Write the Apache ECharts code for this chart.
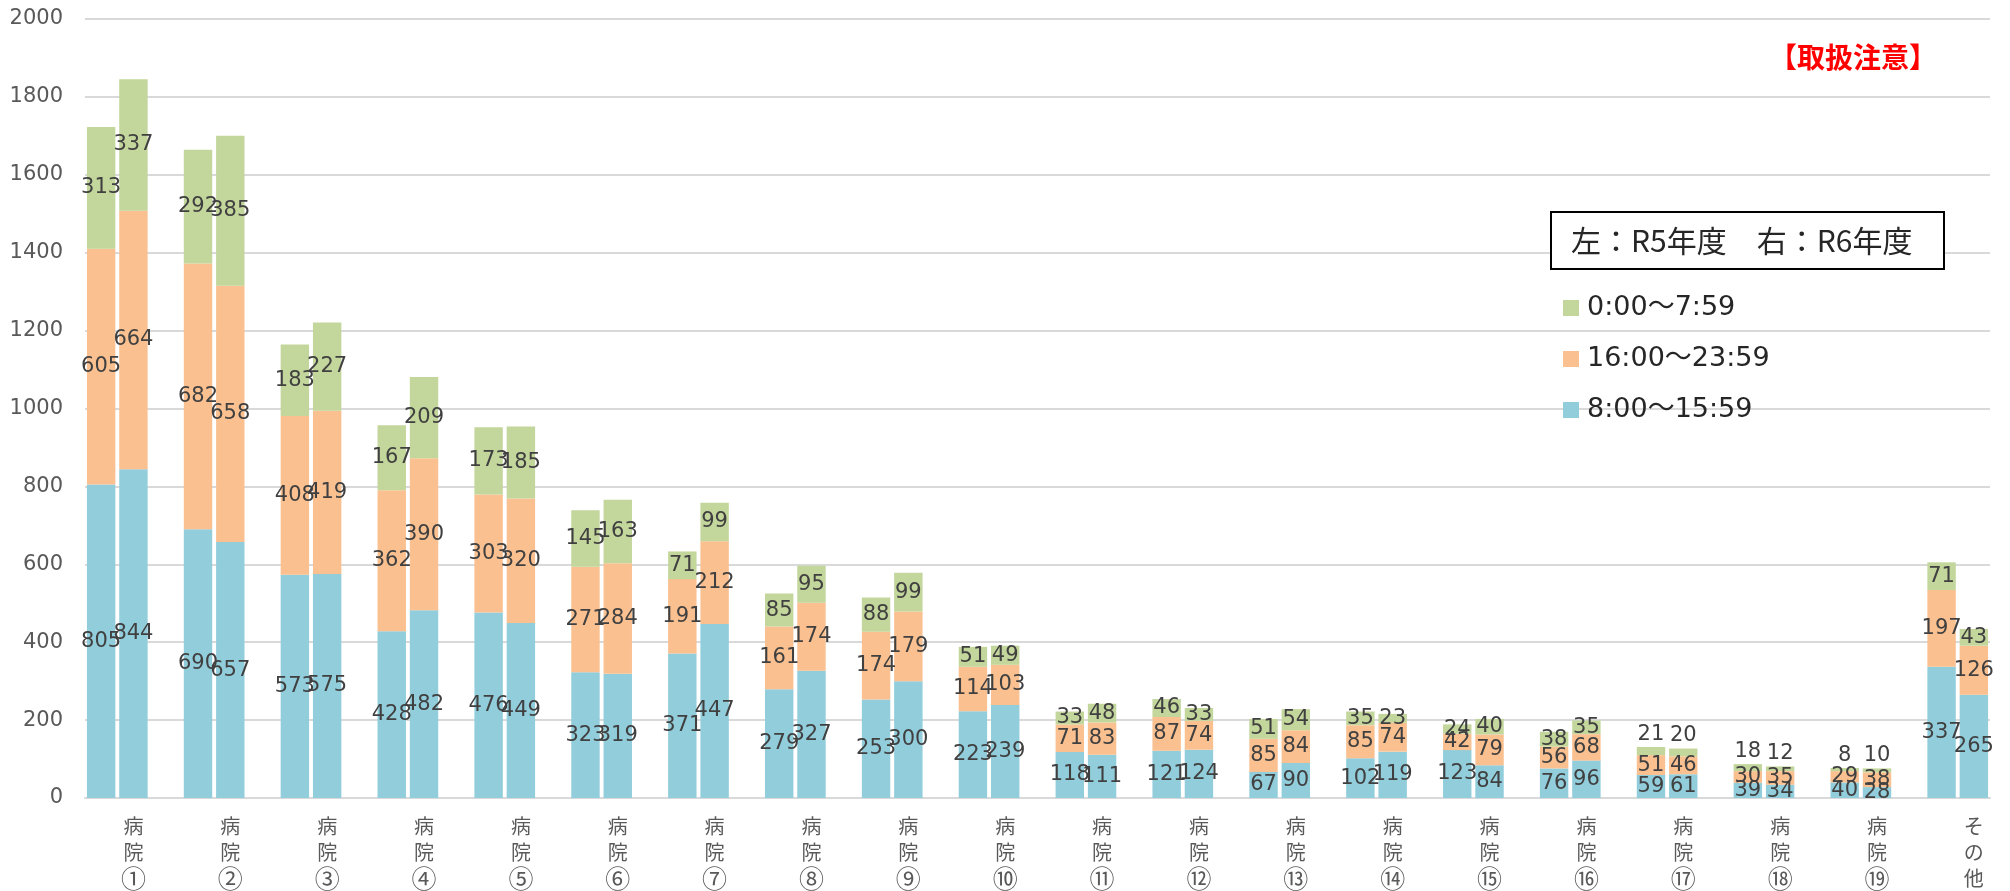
<!DOCTYPE html>
<html>
<head>
<meta charset="utf-8">
<script src="https://cdn.jsdelivr.net/npm/echarts@6/dist/echarts.min.js"></script>
<style>
html,body{margin:0;padding:0;background:#fff;}
#chart{width:2010px;height:891px;}
</style>
</head>
<body>
<div id="chart"></div>
<script>
// ---- data ----
const categories = ['病院①','病院②','病院③','病院④','病院⑤','病院⑥','病院⑦','病院⑧','病院⑨','病院⑩',
  '病院⑪','病院⑫','病院⑬','病院⑭','病院⑮','病院⑯','病院⑰','病院⑱','病院⑲','その他'];
const seriesNames = ['8:00～15:59', '16:00～23:59', '0:00～7:59'];
// R5 (left bar)
const r5Day     = [805,690,573,428,476,323,371,279,253,223,118,121,67,102,123,76,59,39,40,337];
const r5Evening = [605,682,408,362,303,271,191,161,174,114,71,87,85,85,42,56,51,30,29,197];
const r5Night   = [313,292,183,167,173,145,71,85,88,51,33,46,51,35,24,38,21,18,8,71];
// R6 (right bar)
const r6Day     = [844,657,575,482,449,319,447,327,300,239,111,124,90,119,84,96,61,34,28,265];
const r6Evening = [664,658,419,390,320,284,212,174,179,103,83,74,84,74,79,68,46,35,38,126];
const r6Night   = [337,385,227,209,185,163,99,95,99,49,48,33,54,23,40,35,20,12,10,43];
const yTicks = { min: 0, max: 2000, interval: 200 };

// ---- build slot layout: [R5, R6, gap] per category, no trailing gap ----
const slots = [];
function buildSlots(r5, r6) {
  const out = [];
  categories.forEach((c, i) => {
    out.push(r5[i]);
    out.push(r6[i]);
    if (i < categories.length - 1) out.push('-');
  });
  return out;
}
categories.forEach((c, i) => {
  slots.push(c + '|R5');
  slots.push(c);
  if (i < categories.length - 1) slots.push(c + '|gap');
});

const colors = ['#92CDDC', '#FAC090', '#C3D69B'];
const numFont = "'DejaVu Sans', 'Noto Sans CJK JP', sans-serif";
const cjkFont = "'Noto Sans CJK JP', 'DejaVu Sans', sans-serif";

const dataSets = [buildSlots(r5Day, r6Day), buildSlots(r5Evening, r6Evening), buildSlots(r5Night, r6Night)];

const series = dataSets.map((d, si) => ({
  name: seriesNames[si],
  type: 'bar',
  stack: 'total',
  barCategoryGap: '12%',
  itemStyle: { color: colors[si] },
  data: d.map(v => {
    if (v === '-') return '-';
    const small = si === 2 && v <= 21;
    return {
      value: v,
      label: { position: small ? 'top' : 'inside', distance: 2 }
    };
  }),
  label: {
    show: true,
    color: '#404040',
    fontSize: 21,
    fontFamily: numFont,
    formatter: p => p.value
  }
}));

function catLabel(v) {
  if (v.indexOf('|') >= 0) return '';
  return v.split('').map(ch => /[\u2460-\u2473]/.test(ch) ? '{c|' + ch + '}' : '{a|' + ch + '}').join('\n');
}

const chart = echarts.init(document.getElementById('chart'), null, { renderer: 'canvas' });
chart.setOption({
  animation: false,
  color: colors,
  grid: { left: 85, right: 20, top: 19, bottom: 92, containLabel: false },
  xAxis: {
    type: 'category',
    data: slots,
    axisTick: { show: false },
    axisLine: { lineStyle: { color: '#d9d9d9', width: 2 } },
    axisLabel: {
      interval: 0,
      margin: 15,
      color: '#595959',
      fontSize: 20,
      lineHeight: 26,
      fontFamily: cjkFont,
      formatter: catLabel,
      rich: {
        a: { fontSize: 20, lineHeight: 26, color: '#595959', fontFamily: cjkFont },
        c: { fontSize: 25, lineHeight: 26, color: '#595959', fontFamily: cjkFont }
      }
    }
  },
  yAxis: {
    type: 'value',
    min: yTicks.min, max: yTicks.max, interval: yTicks.interval,
    axisLine: { show: false },
    axisTick: { show: false },
    splitLine: { lineStyle: { color: '#d9d9d9', width: 2 } },
    axisLabel: { color: '#595959', fontSize: 21, fontFamily: numFont, margin: 22, formatter: v => String(v) }
  },
  legend: {
    data: [seriesNames[2], seriesNames[1], seriesNames[0]],
    orient: 'vertical',
    left: 1558,
    top: 288,
    icon: 'rect',
    itemWidth: 16,
    itemHeight: 16,
    itemGap: 21,
    textStyle: { fontSize: 27, lineHeight: 30, color: '#262626', fontFamily: numFont, padding: [0,0,0,3] }
  },
  graphic: [
    {
      type: 'rect',
      shape: { x: 1551, y: 212, width: 393, height: 57 },
      style: { fill: '#fff', stroke: '#000', lineWidth: 2 },
      z: 10
    },
    {
      type: 'text',
      x: 1571, y: 241,
      style: {
        text: '左：R5年度　右：R6年度',
        fontSize: 30, fontFamily: cjkFont, fill: '#262626',
        verticalAlign: 'middle', textAlign: 'left'
      },
      z: 11
    },
    {
      type: 'text',
      x: 1853, y: 57,
      style: {
        text: '【取扱注意】',
        fontSize: 28, fontWeight: 'bold', fontFamily: cjkFont, fill: '#ff0000',
        verticalAlign: 'middle', textAlign: 'center'
      },
      z: 11
    }
  ],
  series: series
});
</script>
</body>
</html>
